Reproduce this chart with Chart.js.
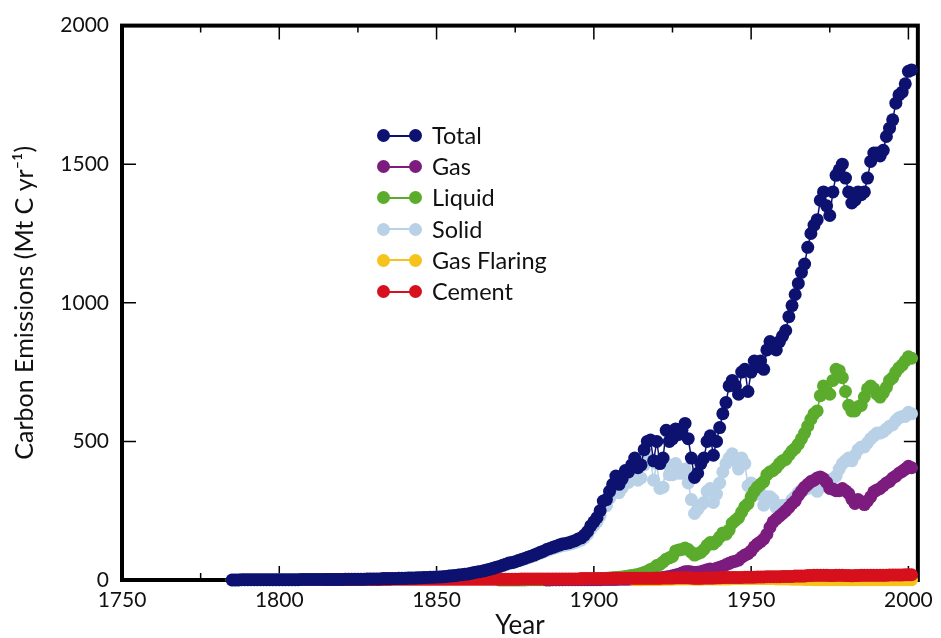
<!DOCTYPE html>
<html>
<head>
<meta charset="utf-8">
<script src="https://cdn.jsdelivr.net/npm/chart.js@4.4.1/dist/chart.umd.min.js"></script>
<style>
  body { margin: 0; background: #fff; }
  #wrap { position: relative; width: 941px; height: 638px; }
  #legend { position: absolute; left: 370px; top: 120px; font-family: Lato, "Open Sans", sans-serif; font-size: 23.5px; color: #111; }
  .row { position: relative; height: 31.2px; line-height: 31.2px; white-space: nowrap; }
  .row .ln { position: absolute; left: 13px; width: 32px; top: 14.6px; height: 2px; }
  .row .dot { position: absolute; width: 13px; height: 13px; border-radius: 50%; top: 9.1px; }
  .row .txt { position: absolute; left: 62px; top: 0; }
</style>
</head>
<body>
<div id="wrap">
  <canvas id="chart" width="941" height="638"></canvas>
  <div id="legend"></div>
</div>
<script>
// tick labels
var xTicks = [1750, 1800, 1850, 1900, 1950, 2000];
var yTicks = [0, 500, 1000, 1500, 2000];

// series names, in legend order
var seriesNames = ["Total", "Gas", "Liquid", "Solid", "Gas Flaring", "Cement"];

// annual values (Mt C / yr), each series starts at its own year
var totalStart = 1785;
var total = [
  0, 0, 0, 1, 1, 1, 1, 1, 1, 1, 1, 1, 1, 1, 1,
  1, 1, 1, 1, 1, 1, 1, 2, 2, 2,
  2, 2, 2, 2, 2, 2, 2, 2, 2, 2,
  2, 3, 3, 3, 3, 3, 3, 3, 4, 4,
  4, 4, 4, 5, 5, 5, 5, 5, 6, 6,
  6, 7, 7, 7, 8, 8, 9, 9, 10, 10,
  11, 11, 12, 13, 14, 15, 16, 18, 19, 21,
  22, 24, 27, 29, 31, 33, 36, 39, 42, 46,
  49, 53, 57, 61, 63, 66, 70, 74, 78, 82,
  86, 90, 95, 100, 104, 110, 114, 118, 122, 126,
  130, 132, 134, 138, 142, 148, 152, 162, 175, 195,
  210, 225, 250, 285, 290, 320, 345, 375, 345, 365,
  395, 390, 415, 440, 405, 415, 470, 500, 505, 430,
  500, 420, 440, 540, 500, 510, 545, 525, 540, 565,
  510, 440, 370, 385, 420, 440, 500, 520, 450, 500,
  550, 600, 640, 700, 720, 700, 670, 750, 760, 680,
  750, 790, 770, 790, 760, 830, 860, 850, 830, 860,
  880, 900, 950, 990, 1030, 1070, 1110, 1140, 1200, 1250,
  1280, 1300, 1370, 1400, 1350, 1315, 1400, 1460, 1480, 1500,
  1450, 1400, 1360, 1370, 1400, 1390, 1400, 1450, 1510, 1540,
  1540, 1530, 1550, 1600, 1630, 1660, 1720, 1750, 1760, 1790,
  1835, 1840
];

var solidStart = 1785;
var solid = [
  0, 0, 0, 1, 1, 1, 1, 1, 1, 1, 1, 1, 1, 1, 1,
  1, 1, 1, 1, 1, 1, 1, 2, 2, 2,
  2, 2, 2, 2, 2, 2, 2, 2, 2, 2,
  2, 3, 3, 3, 3, 3, 3, 3, 4, 4,
  4, 4, 4, 5, 5, 5, 5, 5, 6, 6,
  6, 7, 7, 7, 8, 8, 9, 9, 10, 10,
  11, 11, 12, 13, 14, 15, 16, 18, 19, 21,
  22, 24, 27, 29, 31, 33, 36, 39, 42, 45,
  48, 52, 56, 60, 62, 65, 69, 72, 76, 80,
  84, 88, 93, 97, 101, 106, 110, 114, 117, 121,
  124, 126, 128, 131, 135, 140, 144, 153, 165, 184,
  197, 210, 232, 265, 268, 295, 318, 345, 315, 332,
  360, 352, 375, 395, 360, 368, 415, 440, 435, 360,
  420, 330, 335, 420, 380, 380, 420, 385, 385, 400,
  350, 290, 240, 255, 270, 280, 320, 330, 280, 310,
  350, 390, 420, 440, 455, 430, 400, 440, 420, 340,
  350, 340, 310, 310, 270, 300, 300, 290, 260, 265,
  270, 265, 275, 290, 300, 315, 325, 330, 330, 335,
  335, 320, 335, 350, 345, 345, 365, 375, 400, 420,
  430, 440, 430, 450, 470, 480, 480, 495, 510, 520,
  530, 530, 535, 545, 555, 560, 575, 585, 590, 590,
  605, 600
];

var liquidStart = 1870;
var liquid = [
  0, 0, 0, 0, 0, 0, 0, 0, 0, 1,
  1, 1, 1, 1, 1, 1, 1, 1, 1, 1,
  1, 2, 2, 2, 2, 2, 2, 2, 3, 3,
  3, 4, 4, 5, 6, 7, 8, 9, 10, 11,
  13, 14, 16, 18, 20, 23, 27, 32, 38, 42,
  52, 56, 65, 75, 80, 85, 105, 108, 110, 115,
  110, 100, 90, 95, 100, 110, 125, 135, 130, 140,
  155, 170, 165, 180, 205, 215, 225, 245, 265, 275,
  300, 320, 335, 345, 355, 380, 390, 395, 405, 420,
  430, 435, 450, 465, 475, 490, 510, 530, 555, 580,
  600, 610, 665, 700, 680, 670, 720, 760, 755, 730,
  680, 630, 610, 610, 625, 630, 660, 690, 700, 690,
  670, 660, 675, 695, 720, 730, 750, 765, 775, 790,
  805, 800
];

var gasStart = 1885;
var gas = [
  0, 0, 1, 1, 1,
  1, 1, 1, 1, 1, 1, 1, 1, 1, 1,
  1, 1, 1, 2, 2, 2, 2, 2, 3, 3,
  3, 3, 4, 4, 4, 5, 5, 5, 5, 6,
  6, 7, 9, 11, 13, 15, 18, 21, 25, 30,
  31, 29, 27, 28, 30, 33, 37, 40, 38, 42,
  46, 50, 55, 60, 65, 68, 72, 82, 90, 95,
  105, 120, 130, 138, 148, 165, 190, 210, 220, 230,
  240, 250, 262, 275, 285, 305, 320, 335, 345, 355,
  360, 368, 372, 365, 352, 330, 328, 322, 322, 330,
  322, 312, 292, 276, 290, 282, 272, 285, 300, 318,
  325, 330, 340, 350, 356, 368, 375, 385, 392, 400,
  410, 405
];

var flaringStart = 1913;
var flaring = [
  1, 1, 1, 2, 2, 2, 2,
  2, 2, 3, 3, 3, 3, 4, 4, 4, 4,
  4, 4, 3, 3, 3, 4, 4, 4, 4, 4,
  4, 4, 4, 4, 5, 5, 5, 5, 5, 5,
  5, 5, 5, 5, 5, 5, 5, 5, 4, 4,
  4, 4, 4, 3, 3, 3, 3, 2, 2, 2,
  1, 1, 1, 1, 1, 1, 1, 1, 1, 1,
  1, 1, 1, 1, 1, 1, 1, 1, 1, 1,
  1, 1, 1, 1, 1, 1, 1, 1, 1, 1,
  1, 1
];

var cementStart = 1815;
var cement = [
  2, 2, 2, 2, 2,
  2, 2, 2, 2, 2, 2, 2, 2, 2, 2,
  2, 2, 2, 2, 2, 2, 3, 3, 3, 3,
  3, 3, 3, 3, 3, 3, 3, 3, 3, 3,
  3, 3, 3, 3, 3, 3, 3, 3, 3, 3,
  3, 3, 3, 3, 3, 3, 3, 3, 3, 3,
  3, 3, 3, 3, 3, 3, 3, 4, 4, 4,
  4, 4, 4, 4, 4, 4, 4, 4, 4, 4,
  4, 4, 4, 4, 4, 4, 5, 5, 5, 5,
  5, 5, 5, 5, 5, 5, 6, 6, 6, 6,
  6, 6, 6, 6, 6, 6, 6, 6, 6, 6,
  6, 6, 7, 7, 7, 7, 8, 8, 8, 8,
  8, 7, 6, 6, 6, 7, 7, 7, 7, 8,
  8, 9, 9, 9, 9, 9, 9, 9, 10, 10,
  10, 10, 11, 11, 11, 12, 12, 12, 12, 12,
  13, 13, 13, 13, 14, 14, 14, 14, 16, 16,
  17, 17, 17, 17, 17, 16, 16, 17, 17, 17,
  16, 16, 15, 16, 16, 17, 17, 17, 17, 17,
  17, 17, 17, 17, 18, 18, 18, 18, 18, 19,
  19, 19
];

var colors = {
  "Total": "#0d1270",
  "Gas": "#7b1c7e",
  "Liquid": "#5bab2c",
  "Solid": "#b9d1e6",
  "Gas Flaring": "#f6c21c",
  "Cement": "#d6101c"
};

var fontFamily = "Lato, 'Open Sans', sans-serif";

function toPoints(start, vals) {
  return vals.map(function (v, i) { return { x: start + i, y: v }; });
}

function makeSet(name, start, vals) {
  var c = colors[name];
  return {
    label: name,
    data: toPoints(start, vals),
    borderColor: c,
    backgroundColor: c,
    pointBackgroundColor: c,
    pointBorderWidth: 0,
    pointRadius: 6.5,
    borderWidth: 1.5,
    tension: 0,
    clip: false
  };
}

// first dataset is drawn on top
var datasets = [
  makeSet("Total", totalStart, total),
  makeSet("Cement", cementStart, cement),
  makeSet("Gas Flaring", flaringStart, flaring),
  makeSet("Gas", gasStart, gas),
  makeSet("Liquid", liquidStart, liquid),
  makeSet("Solid", solidStart, solid)
];

// frame with inward ticks, under the points
var framePlugin = {
  id: "frame",
  beforeDatasetsDraw: function (chart) {
    var ctx = chart.ctx, a = chart.chartArea;
    var sx = chart.scales.x, sy = chart.scales.y;
    ctx.save();
    ctx.strokeStyle = "#000";
    ctx.lineWidth = 1.5;
    for (var yr = 1750; yr <= 2000; yr += 25) {
      var px = sx.getPixelForValue(yr);
      var len = (yr % 50 === 0) ? 14 : 7;
      ctx.beginPath();
      ctx.moveTo(px, a.bottom); ctx.lineTo(px, a.bottom - len);
      ctx.moveTo(px, a.top); ctx.lineTo(px, a.top + len);
      ctx.stroke();
    }
    yTicks.forEach(function (v) {
      var py = sy.getPixelForValue(v);
      ctx.beginPath();
      ctx.moveTo(a.left, py); ctx.lineTo(a.left + 14, py);
      ctx.moveTo(a.right, py); ctx.lineTo(a.right - 14, py);
      ctx.stroke();
    });
    ctx.lineWidth = 4;
    ctx.strokeRect(a.left, a.top, a.right - a.left, a.bottom - a.top);
    ctx.restore();
  }
};

var ctx = document.getElementById("chart").getContext("2d");
new Chart(ctx, {
  type: "line",
  data: { datasets: datasets },
  options: {
    responsive: false,
    animation: false,
    layout: { padding: { left: 0, right: 19, top: 22, bottom: 0 } },
    plugins: { legend: { display: false }, tooltip: { enabled: false } },
    scales: {
      x: {
        type: "linear",
        min: 1750,
        max: 2003,
        grid: { display: false, drawTicks: false },
        border: { display: false },
        afterBuildTicks: function (s) { s.ticks = xTicks.map(function (v) { return { value: v }; }); },
        afterFit: function (s) { s.height = 58; },
        ticks: { color: "#111", padding: 8, maxRotation: 0, autoSkip: false, font: { family: fontFamily, size: 21 },
          callback: function (v) { return String(v); } },
        title: { display: true, text: "Year", color: "#111", padding: { top: 0, bottom: -1 },
          font: { family: fontFamily, size: 26, lineHeight: 1 } }
      },
      y: {
        min: 0,
        max: 2000,
        grid: { display: false, drawTicks: false },
        border: { display: false },
        afterBuildTicks: function (s) { s.ticks = yTicks.map(function (v) { return { value: v }; }); },
        afterFit: function (s) { s.width = 122; },
        ticks: { color: "#111", padding: 13, font: { family: fontFamily, size: 21 },
          callback: function (v) { return String(v); } },
        title: { display: true, text: "Carbon Emissions (Mt C yr\u207B\u00B9)", color: "#111", padding: { top: 12, bottom: 0 },
          font: { family: fontFamily, size: 25, lineHeight: 1 } }
      }
    }
  },
  plugins: [framePlugin]
});

// legend inside the plot
var legend = document.getElementById("legend");
seriesNames.forEach(function (name) {
  var c = colors[name];
  var row = document.createElement("div");
  row.className = "row";
  row.innerHTML = '<div class="ln" style="background:' + c + '"></div>' +
    '<div class="dot" style="left:6.5px;background:' + c + '"></div>' +
    '<div class="dot" style="left:38.5px;background:' + c + '"></div>' +
    '<div class="txt"></div>';
  row.querySelector(".txt").textContent = name;
  legend.appendChild(row);
});
</script>
</body>
</html>
